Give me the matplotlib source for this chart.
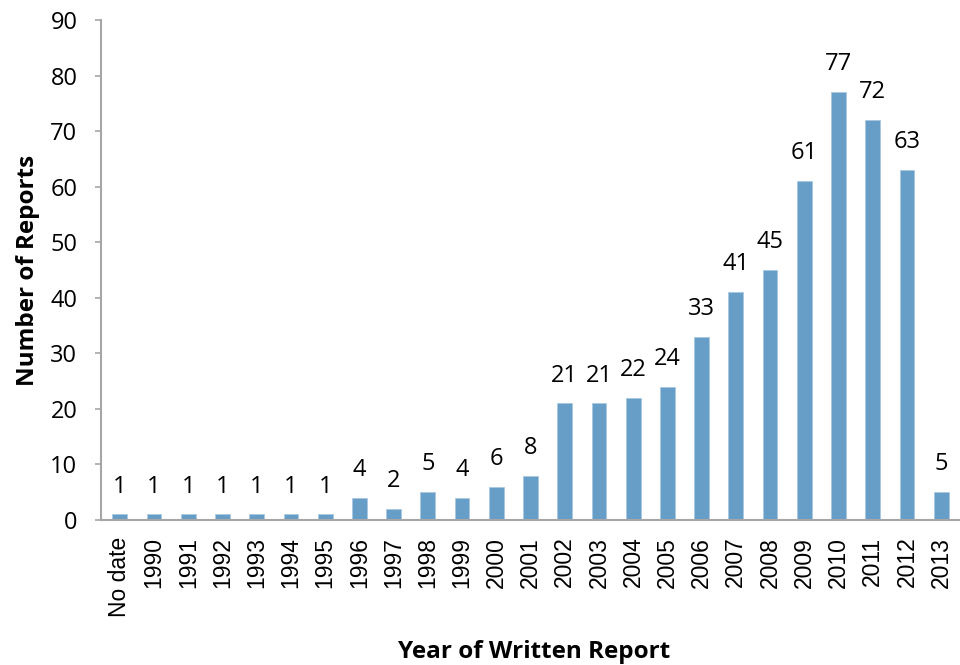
import matplotlib
matplotlib.use("Agg")
import matplotlib.pyplot as plt
import numpy as np

# data
years = ["No date", "1990", "1991", "1992", "1993", "1994", "1995", "1996",
         "1997", "1998", "1999", "2000", "2001", "2002", "2003", "2004",
         "2005", "2006", "2007", "2008", "2009", "2010", "2011", "2012", "2013"]
reports = [1, 1, 1, 1, 1, 1, 1, 4, 2, 5, 4, 6, 8, 21, 21, 22, 24, 33, 41, 45,
           61, 77, 72, 63, 5]
y_ticks = [0, 10, 20, 30, 40, 50, 60, 70, 80, 90]

bar_color = "#669ec7"
axis_gray = "#a6a6a6"

fig = plt.figure(figsize=(9.6, 6.65), dpi=100)
ax = fig.add_axes([0.1052, 0.218, 0.8948, 0.752])

x = np.arange(len(years))
ax.bar(x, reports, width=0.43, color=bar_color, edgecolor="#a9c8e0", linewidth=0.6, zorder=2)

# value labels above bars
for xi, v in zip(x, reports):
    ax.annotate(str(v), (xi, v), xytext=(0, 20), textcoords="offset points",
                ha="center", va="center", fontsize=17, family="Open Sans", color="black")

ax.set_xlim(-0.55, len(years) - 0.45)
ax.set_ylim(0, 90)
ax.set_yticks(y_ticks)
ax.set_yticklabels([str(t) for t in y_ticks], fontsize=17, family="Open Sans")
ax.set_xticks(x)
ax.set_xticklabels(years, rotation=90, fontsize=16.5, family="Liberation Sans")

ax.tick_params(axis="x", length=0, pad=12)
ax.tick_params(axis="y", length=4, width=1.2, color=axis_gray, pad=13)

for side in ["top", "right"]:
    ax.spines[side].set_visible(False)
for side in ["left", "bottom"]:
    ax.spines[side].set_color(axis_gray)
    ax.spines[side].set_linewidth(1.5)

fig.text(0.029, 0.593, "Number of Reports", fontsize=17.5, fontweight="bold",
         family="Open Sans", rotation=90, ha="center", va="center")
fig.text(0.556, 0.0195, "Year of Written Report", fontsize=17.5, fontweight="bold",
         family="Open Sans", ha="center", va="center")

fig.savefig("out.png", dpi=100)
